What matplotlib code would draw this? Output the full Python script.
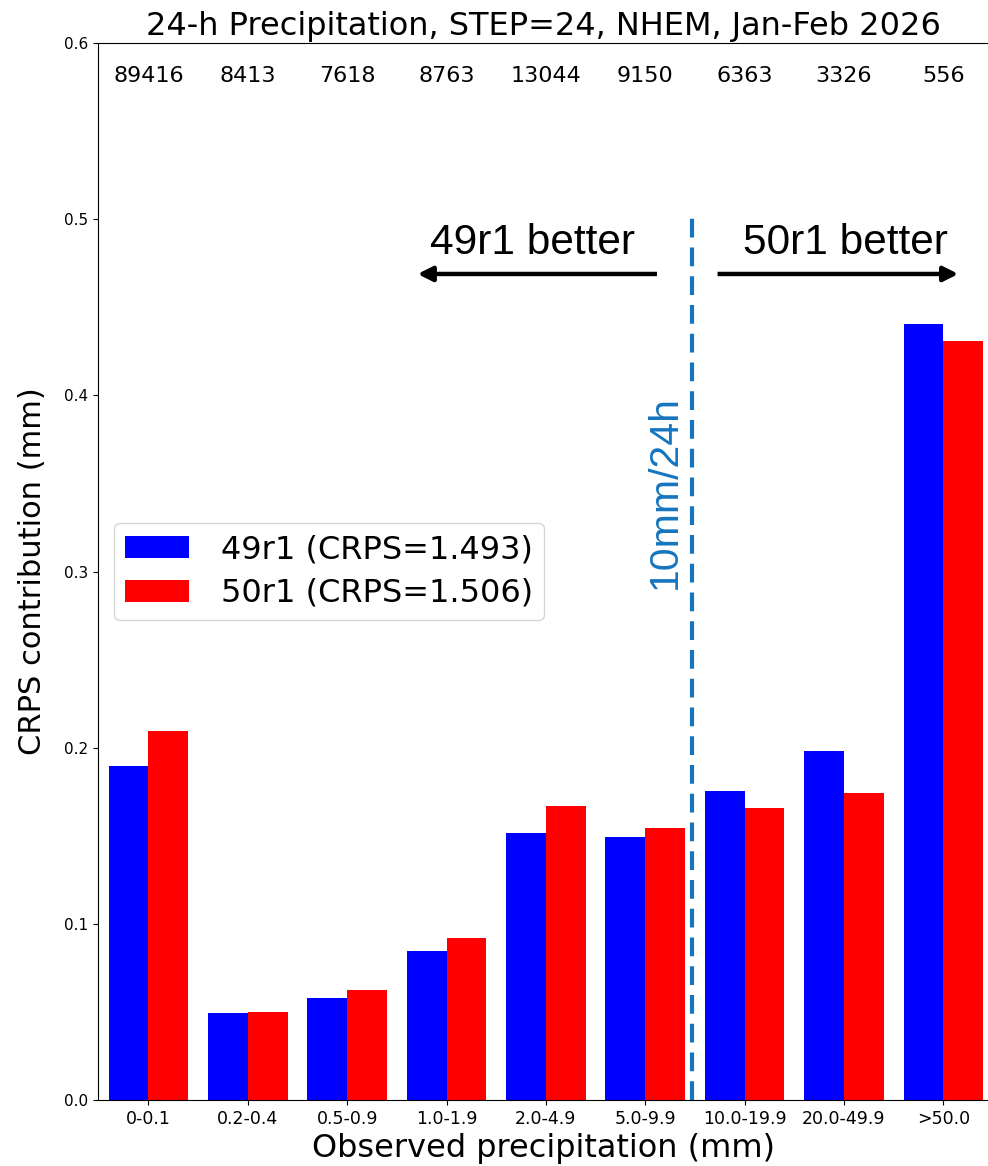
import numpy as np
import matplotlib
matplotlib.use("Agg")
import matplotlib.pyplot as plt

categories = ['0-0.1', '0.2-0.4', '0.5-0.9', '1.0-1.9', '2.0-4.9',
              '5.0-9.9', '10.0-19.9', '20.0-49.9', '>50.0']
counts = [89416, 8413, 7618, 8763, 13044, 9150, 6363, 3326, 556]
crps_49r1 = [0.1896, 0.0494, 0.0579, 0.0846, 0.1516, 0.1493, 0.1754, 0.1981, 0.4405]
crps_50r1 = [0.2097, 0.0501, 0.0624, 0.0920, 0.1669, 0.1544, 0.1658, 0.1743, 0.4310]
label_49r1 = '49r1 (CRPS=1.493)'
label_50r1 = '50r1 (CRPS=1.506)'

x = np.arange(len(categories))
width = 0.4

fig = plt.figure(figsize=(9.88, 11.66), dpi=100)
ax = fig.add_axes([0.0992, 0.0566, 0.9008, 0.9065])

ax.bar(x - width / 2, crps_49r1, width, color='blue', label=label_49r1)
ax.bar(x + width / 2, crps_50r1, width, color='red', label=label_50r1)

ax.set_xlim(-0.508, 8.45)
ax.set_ylim(0, 0.6)
ax.set_xticks(x)
ax.set_xticklabels(categories, fontsize=12.5)
ax.tick_params(axis='y', labelsize=11)
ax.spines['right'].set_visible(False)

for xi, n in zip(x, counts):
    ax.text(xi, 0.581, str(n), ha='center', va='center', fontsize=16)

ax.set_title('24-h Precipitation, STEP=24, NHEM, Jan-Feb 2026', fontsize=23, pad=6)
ax.set_xlabel('Observed precipitation (mm)', fontsize=23, labelpad=4)
ax.set_ylabel('CRPS contribution (mm)', fontsize=22, labelpad=12)

ax.legend(loc='center left', bbox_to_anchor=(0.0, 0.5), fontsize=23,
          handlelength=2.0, handletextpad=1.0, borderpad=0.35, labelspacing=0.4)

# threshold line and annotations
line_col = '#1575be'
ax.plot([5.47, 5.47], [0, 0.5035], color=line_col, lw=3.0, ls=(0, (4.5, 2.4)))
ax.text(5.196, 0.345, '10mm/24h', rotation=90, ha='center', va='center',
        color=line_col, fontsize=29.5, family='Liberation Sans')

arrow = dict(arrowstyle='-|>', lw=3.2, color='black', mutation_scale=22,
             capstyle='butt')
ax.annotate('', xy=(2.68, 0.4689), xytext=(5.146, 0.4689), arrowprops=arrow)
ax.annotate('', xy=(8.18, 0.4689), xytext=(5.70, 0.4689), arrowprops=arrow)
ax.text(3.87, 0.4865, '49r1 better', ha='center', va='center',
        fontsize=30.5, family='Liberation Sans')
ax.text(7.02, 0.4865, '50r1 better', ha='center', va='center',
        fontsize=30.5, family='Liberation Sans')

fig.savefig('out.png', dpi=100)
